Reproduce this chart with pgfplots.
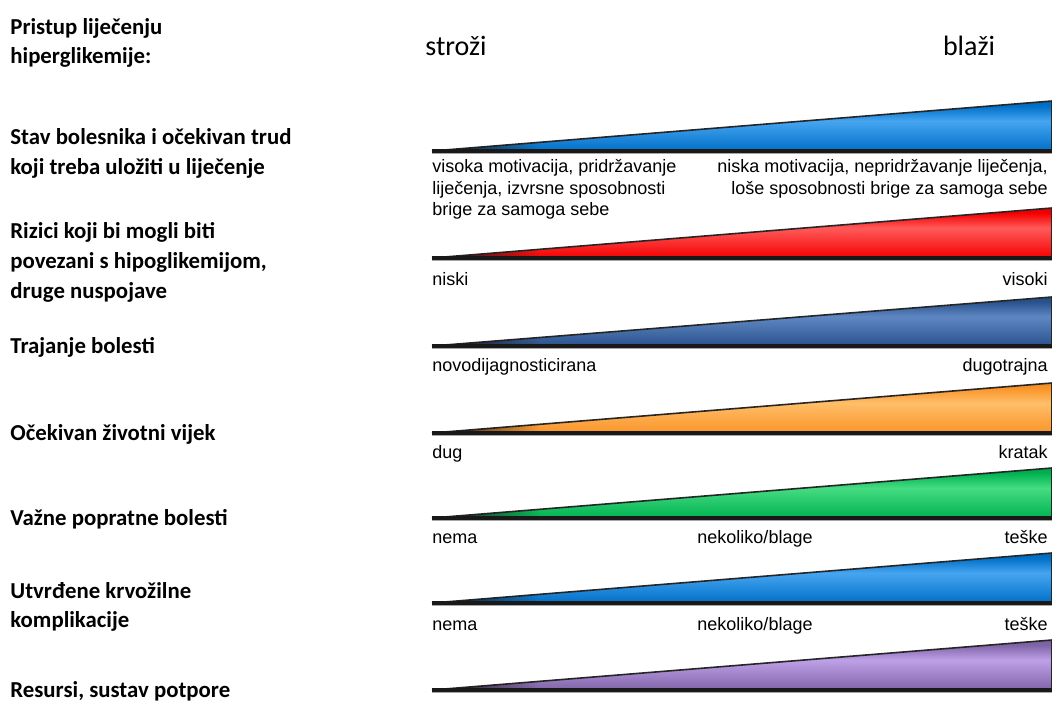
\documentclass[border=0pt]{standalone}
\usepackage{pgfplots}
\pgfplotsset{compat=1.18}
\usetikzlibrary{fadings}
\usepackage{fontspec}
\setmainfont{Carlito}
\newfontfamily\arial{Liberation Sans}
\definecolor{cblue}{RGB}{0,112,200}
\definecolor{hblue}{RGB}{70,165,240}
\definecolor{cred}{RGB}{245,0,0}
\definecolor{hred}{RGB}{255,90,90}
\definecolor{csteel}{RGB}{42,82,140}
\definecolor{hsteel}{RGB}{95,135,195}
\definecolor{corange}{RGB}{250,148,40}
\definecolor{horange}{RGB}{255,190,105}
\definecolor{cgreen}{RGB}{0,178,80}
\definecolor{hgreen}{RGB}{70,220,130}
\definecolor{cpurple}{RGB}{128,100,168}
\definecolor{hpurple}{RGB}{190,160,230}
\newcommand\mkshade[3]{%
  \pgfdeclareverticalshading{#1}{100bp}{color(0bp)=(#2!55!black); color(12bp)=(#2!85!black); color(25bp)=(#2); color(55bp)=(#3); color(70bp)=(#2); color(92bp)=(#2!75!black); color(100bp)=(#2!40!black)}}
\mkshade{sblue}{cblue}{hblue}
\mkshade{sred}{cred}{hred}
\mkshade{ssteel}{csteel}{hsteel}
\mkshade{sorange}{corange}{horange}
\mkshade{sgreen}{cgreen}{hgreen}
\mkshade{spurple}{cpurple}{hpurple}
\newcommand\wedgeplot[5]{% tipx, bottom y, top y, shading, base colour
  \addplot[draw=black!85, line width=0.8pt, shading=#4, shade]
    coordinates {(#1,#2) (1052,#2) (1052,#3) (#1,#2)};
  \addplot[draw=none, fill=black!90, path fading=east]
    coordinates {(#1,#2) (540,#2) (540,#2-0.0806*108) (#1,#2)};
  \addplot[draw=black!90, line width=1.6pt] coordinates {(#1,#2) (1052,#2)};
  \addplot[draw=black!35, line width=0.5pt] coordinates {(#1,#2+2.2) (1052,#2+2.2)};
}
\begin{document}
\begin{tikzpicture}
\begin{axis}[name=ax, scale only axis, width=526pt, height=350pt,
  xmin=0, xmax=1052, ymin=0, ymax=700, y dir=reverse, hide axis, clip=false]
\wedgeplot{432}{151}{101}{sblue}{cblue}
\wedgeplot{432}{258}{208}{sred}{cred}
\wedgeplot{432}{346}{297}{ssteel}{csteel}
\wedgeplot{432}{433}{383}{sorange}{corange}
\wedgeplot{432}{518}{468}{sgreen}{cgreen}
\wedgeplot{432}{603}{553}{sblue}{cblue}
\wedgeplot{432}{690}{640}{spurple}{cpurple}
% left labels
\tikzset{L/.style={anchor=base west, inner sep=0pt, font=\fontsize{11.4}{13}\selectfont\bfseries}}
\node[L] at (axis cs:10,35) {Pristup liječenju};
\node[L] at (axis cs:10,64) {hiperglikemije:};
\node[L] at (axis cs:10,145) {Stav bolesnika i očekivan trud};
\node[L] at (axis cs:10,175) {koji treba uložiti u liječenje};
\node[L] at (axis cs:10,238) {Rizici koji bi mogli biti};
\node[L] at (axis cs:10,268) {povezani s hipoglikemijom,};
\node[L] at (axis cs:10,298) {druge nuspojave};
\node[L] at (axis cs:10,353) {Trajanje bolesti};
\node[L] at (axis cs:10,440) {Očekivan životni vijek};
\node[L] at (axis cs:10,525) {Važne popratne bolesti};
\node[L] at (axis cs:10,598) {Utvrđene krvožilne};
\node[L] at (axis cs:10,627) {komplikacije};
\node[L] at (axis cs:10,697) {Resursi, sustav potpore};
% header
\tikzset{H/.style={anchor=base, inner sep=0pt, font=\fontsize{14}{16}\selectfont}}
\node[H] at (axis cs:456,56) {stroži};
\node[H] at (axis cs:969,56) {blaži};
% small labels
\tikzset{A/.style={anchor=base west, inner sep=0pt, font=\arial\fontsize{9}{10}\selectfont},
         B/.style={anchor=base east, inner sep=0pt, font=\arial\fontsize{9}{10}\selectfont},
         C/.style={anchor=base, inner sep=0pt, font=\arial\fontsize{9}{10}\selectfont}}
\node[A] at (axis cs:432,173) {visoka motivacija, pridržavanje};
\node[A] at (axis cs:432,194) {liječenja, izvrsne sposobnosti};
\node[A] at (axis cs:432,215) {brige za samoga sebe};
\node[B] at (axis cs:1048,173) {niska motivacija, nepridržavanje liječenja,};
\node[B] at (axis cs:1048,194) {loše sposobnosti brige za samoga sebe};
\node[A] at (axis cs:432,285) {niski};
\node[B] at (axis cs:1048,285) {visoki};
\node[A] at (axis cs:432,371) {novodijagnosticirana};
\node[B] at (axis cs:1048,371) {dugotrajna};
\node[A] at (axis cs:432,458) {dug};
\node[B] at (axis cs:1048,458) {kratak};
\node[A] at (axis cs:432,543) {nema};
\node[C] at (axis cs:755,543) {nekoliko/blage};
\node[B] at (axis cs:1048,543) {teške};
\node[A] at (axis cs:432,630) {nema};
\node[C] at (axis cs:755,630) {nekoliko/blage};
\node[B] at (axis cs:1048,630) {teške};
\end{axis}
\pgfresetboundingbox
\path (ax.south west) rectangle (ax.north east);
\end{tikzpicture}
\end{document}
